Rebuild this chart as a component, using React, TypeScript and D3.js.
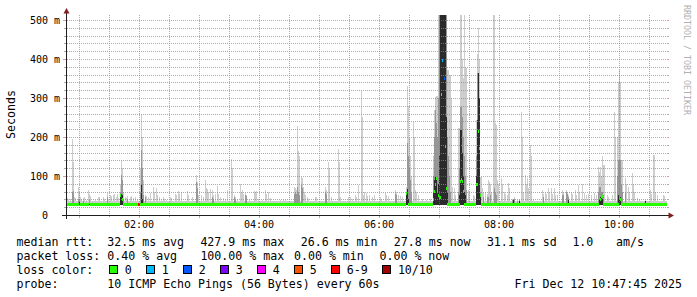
import React from 'react';
import * as d3 from 'd3';

// ---------- data ----------
const START = new Date(2025, 11, 12, 0, 48, 0);
const SAMPLE_COUNT = 600; // one sample per minute
const BASE_MIN_MS = 25.5;
const BASE_MAX_MS = 35;
const BASE_MEDIAN_MS = 27.8;
const Y_MAX_MS = 512.8;

// smoke per sample: [minute, max ping ms, inner band ms, core band ms]
const smoke: number[][] = [
  [0, 43], [1, 40], [3, 42], [5, 195, 60], [6, 137, 62], [7, 45], [8, 43],
  [11, 72, 40], [12, 60, 38, 36], [13, 45], [14, 40], [16, 43, 35], [17, 45], [19, 38],
  [21, 64], [22, 55, 38, 33], [23, 48], [28, 38], [31, 47], [32, 45], [36, 47], [37, 40],
  [40, 56, 45], [41, 42], [43, 51], [44, 48], [46, 50], [47, 55], [49, 46], [50, 53], [51, 44],
  [53, 80, 60, 50], [54, 141, 103, 58], [55, 120, 90, 50], [56, 60, 40], [58, 47], [59, 44],
  [60, 48, 40], [63, 45], [64, 48], [66, 43], [68, 45], [70, 40],
  [73, 120, 60], [74, 259, 167, 80], [75, 200, 120, 40], [76, 90, 50], [78, 51, 45], [79, 48],
  [81, 45], [83, 56], [86, 71], [87, 60], [89, 68], [90, 50], [92, 47], [94, 40], [96, 47], [97, 42],
  [99, 38], [103, 47], [104, 44], [108, 54], [109, 50], [111, 62], [112, 55], [114, 58],
  [120, 62], [121, 50], [125, 45], [129, 103, 85], [130, 85, 70], [131, 50], [134, 51], [136, 45],
  [138, 91], [139, 70], [140, 66], [141, 60], [143, 66], [145, 64, 45], [146, 50, 42], [148, 55],
  [150, 74], [151, 55], [153, 45], [156, 43], [158, 40], [160, 64], [164, 143], [165, 120],
  [167, 50, 45], [168, 45, 38], [170, 42], [173, 79], [174, 60], [175, 64], [176, 55],
  [178, 56, 50], [179, 52, 48], [182, 40], [187, 62], [188, 58], [189, 62], [191, 40], [195, 38],
  [198, 64], [199, 55], [201, 60], [203, 44], [213, 38], [216, 40], [218, 38],
  [227, 71, 55], [228, 70, 60], [229, 65, 55], [230, 228, 71], [231, 165, 60], [232, 150, 50],
  [234, 97, 77], [235, 95, 70], [236, 71], [237, 60], [238, 50], [240, 47], [241, 42],
  [248, 45], [249, 47], [258, 71, 60], [259, 65, 55], [261, 137], [262, 120], [264, 45],
  [271, 168], [272, 137], [273, 45], [281, 45], [283, 47], [285, 42], [288, 50], [289, 46],
  [291, 77], [294, 318], [295, 250], [296, 51], [297, 60],
  [299, 56], [300, 48], [302, 52], [305, 45], [307, 50], [313, 47], [314, 42], [318, 57],
  [319, 52], [321, 48], [328, 64, 55], [329, 58, 50], [331, 50], [333, 48], [335, 45],
  [339, 72, 60, 50], [340, 331, 184, 72], [341, 280, 150, 40], [342, 200, 120], [343, 150, 90],
  [344, 100, 60], [346, 239], [347, 200], [348, 64], [349, 60], [351, 50], [355, 40], [359, 38],
  [363, 40], [366, 150, 100, 60], [367, 269, 200, 90], [368, 303, 269, 97], [369, 305, 235, 95],
  [370, 305, 200, 60], [371, 513, 300, 80], [372, 513, 513, 150], [373, 513, 513, 513],
  [374, 513, 513, 513], [375, 513, 513, 513], [376, 513, 513, 513], [377, 513, 513, 513],
  [378, 513, 513, 513], [379, 513, 513, 250], [380, 372, 200, 60], [381, 372, 150], [382, 359, 100],
  [383, 359, 60], [384, 300], [385, 72], [387, 70], [388, 50], [391, 222, 60], [392, 222, 120, 50],
  [393, 513, 277, 218], [394, 513, 277, 218], [395, 400, 250, 160], [396, 350, 200, 100],
  [397, 513, 150, 60], [398, 376, 100, 50], [399, 376, 64], [401, 64], [402, 55],
  [406, 51], [407, 48], [409, 244, 150, 100], [410, 414, 363, 244], [411, 479, 363, 363],
  [412, 400, 300, 300], [413, 98, 60, 51], [414, 98], [415, 70], [416, 60, 45], [418, 58],
  [420, 55, 45], [421, 90, 45], [422, 85], [423, 80, 50], [424, 60], [426, 513], [427, 513, 70],
  [428, 235, 60], [429, 231, 50], [430, 90], [431, 80], [434, 94], [435, 80], [437, 60], [438, 55],
  [440, 50], [441, 81], [442, 70], [445, 40, 38], [446, 42, 40, 38], [447, 45, 42], [450, 38, 35],
  [452, 40, 38, 36], [454, 265], [455, 200], [456, 60], [458, 103], [459, 80], [460, 94], [461, 70],
  [463, 180], [464, 150], [466, 40], [475, 64], [476, 55, 45], [478, 60], [479, 55], [481, 68],
  [482, 60], [484, 68], [485, 55], [487, 68], [488, 50], [490, 51], [495, 64, 50], [496, 60, 50],
  [499, 64, 60], [500, 60, 55], [501, 50, 45, 38], [504, 60], [505, 55], [508, 64], [509, 50],
  [511, 77], [512, 60], [515, 79], [517, 56], [519, 50], [521, 55], [524, 51], [527, 56], [529, 50],
  [531, 124, 60], [532, 110, 73, 47], [533, 124, 73, 47], [534, 100, 60, 47], [535, 150, 60, 40],
  [536, 128, 50], [537, 128], [540, 51], [541, 45], [545, 51], [547, 265], [548, 200],
  [550, 200, 100], [551, 340, 140, 50], [552, 372, 140, 45], [553, 342, 140, 45], [554, 141, 80],
  [555, 141, 60], [558, 94, 56], [559, 80], [561, 73], [562, 60], [565, 107], [566, 80], [567, 60],
  [570, 43], [572, 40], [578, 38, 36, 35], [583, 64], [584, 55], [586, 154], [587, 154], [588, 60],
  [590, 51], [596, 51], [597, 48],
];

// median per sample that is off the base level: [minute, median ms, lost pings of 10]
const medianPts: number[][] = [
  [12, 36, 0], [22, 32, 0], [53, 50, 0], [54, 57, 0], [55, 40, 0],
  [71, 28, 7], [72, 28, 7],
  [339, 55, 0], [340, 70, 0], [366, 40, 0], [367, 60, 0], [368, 77, 0], [369, 94, 0], [370, 60, 0],
  [371, 50, 0], [372, 45, 0], [373, 45, 0], [374, 308, 0], [375, 396, 1], [376, 428, 3],
  [377, 350, 2], [378, 175, 0], [379, 69, 0],
  [393, 85, 0], [394, 90, 0], [395, 85, 0], [396, 60, 0],
  [409, 77, 0], [410, 77, 0], [411, 214, 0], [412, 171, 0], [413, 51, 0],
  [532, 45, 0], [533, 40, 0], [534, 47, 0], [535, 47, 0], [552, 43, 0], [553, 40, 0],
];

const yTickValues = [0, 100, 200, 300, 400, 500];
const lossLabels = ['0', '1', '2', '3', '4', '5', '6-9', '10/10'];
const lossColors = ['#26ff00', '#00b8ff', '#0059ff', '#7e00ff', '#ff00ff', '#ff5500', '#ff0000', '#a10000'];

const statsRtt = ['median rtt:', '32.5 ms avg', '427.9 ms max', '26.6 ms min', '27.8 ms now', '31.1 ms sd', '1.0', 'am/s'];
const statsLoss = ['packet loss:', '0.40 % avg', '100.00 % max', '0.00 % min', '0.00 % now'];
const probeText = ['probe:', '10 ICMP Echo Pings (56 Bytes) every 60s', 'Fri Dec 12 10:47:45 2025'];

// ---------- layout ----------
const W = 697, H = 297;
const PL = 67, PR = 667, PT = 15, PB = 215;
const MONO = '"DejaVu Sans Mono", monospace';
const rttX = [16.5, 107.3, 200.4, 300.7, 393.8, 486.9, 572.4, 616];
const lossX = [16.5, 107.3, 200.4, 294, 379.5];
const probeX = [16.5, 107.3, 514.5];

function lossColor(lost: number) {
  if (lost <= 5) return lossColors[lost];
  if (lost < 10) return lossColors[6];
  return lossColors[7];
}

export default function App() {
  const end = d3.timeMinute.offset(START, SAMPLE_COUNT);
  const x = d3.scaleTime().domain([START, end]).range([PL, PR]);
  const y = d3.scaleLinear().domain([0, Y_MAX_MS]).range([PB, PT]).clamp(true);

  const samples = d3.range(SAMPLE_COUNT).map((i) => ({
    t: d3.timeMinute.offset(START, i),
    hi: BASE_MAX_MS, mid: 0, dark: 0, med: BASE_MEDIAN_MS, lost: 0,
  }));
  smoke.forEach(([m, hi, mid, dark]) => {
    const s = samples[m];
    s.hi = hi; s.mid = mid || 0; s.dark = dark || 0;
  });
  medianPts.forEach(([m, v, lost]) => { samples[m].med = v; samples[m].lost = lost; });

  const bandRect = (s: any, v: number, fill: string, key: string) => {
    if (!v || v <= BASE_MIN_MS) return null;
    const x0 = x(s.t);
    const x1 = x(d3.timeMinute.offset(s.t, 1));
    const yt = y(v);
    return <rect key={key} x={x0} y={yt} width={x1 - x0} height={y(BASE_MIN_MS) - yt} fill={fill} />;
  };

  const minorY = d3.range(20, 501, 20).filter((v) => v % 100 !== 0);
  const majorY = d3.range(100, 501, 100);
  const minorX = d3.timeMinute.every(30)!.range(START, end).filter((d) => d.getMinutes() !== 0);
  const majorX = d3.timeHour.every(1)!.range(START, end);
  const labelX = d3.timeHour.every(2)!.range(START, end);
  const fmt = d3.timeFormat('%H:%M');
  const GRID = 'rgba(143,143,143,0.75)';
  const MGRID = 'rgba(222,79,79,0.6)';
  const py = (v: number) => Math.round(y(v)) + 0.5;
  const px = (d: Date) => Math.round(x(d)) + 0.5;

  let bx = 109;
  const lossItems = lossLabels.map((lab, i) => {
    const item = { lab, color: lossColors[i], bx };
    bx = bx + 15.7 + lab.length * 7.1 + 14.2;
    return item;
  });

  return (
    <svg width={W} height={H} style={{ position: 'absolute', left: 0, top: 0, background: '#fff' }}
      fontFamily={MONO}>
      <rect x={0} y={0} width={W} height={H} fill="#ffffff" />
      {/* smoke */}
      <g shapeRendering="crispEdges">
        {samples.map((s, i) => bandRect(s, s.hi, '#cdcdcd', 'h' + i))}
        {samples.map((s, i) => bandRect(s, s.mid, '#979797', 'm' + i))}
        {samples.map((s, i) => bandRect(s, s.dark, '#2b2b2b', 'd' + i))}
        {samples.map((s, i) => {
          const x0 = x(s.t);
          const x1 = x(d3.timeMinute.offset(s.t, 1));
          return <rect key={'md' + i} x={x0} y={y(s.med) - 1.5} width={x1 - x0} height={3} fill={lossColor(s.lost)} />;
        })}
      </g>
      {/* grid */}
      <g strokeWidth={1} shapeRendering="crispEdges">
        {minorY.map((v) => (
          <g key={'gy' + v}>
            <line x1={PL} x2={PR} y1={py(v)} y2={py(v)} stroke={GRID} strokeDasharray="1,1" />
            <line x1={PL - 3} x2={PL} y1={py(v)} y2={py(v)} stroke={GRID} />
            <line x1={PR} x2={PR + 2} y1={py(v)} y2={py(v)} stroke={GRID} />
          </g>
        ))}
        {minorX.map((d) => (
          <g key={'gx' + +d}>
            <line x1={px(d)} x2={px(d)} y1={PT} y2={PB} stroke={GRID} strokeDasharray="1,1" />
            <line x1={px(d)} x2={px(d)} y1={PB} y2={PB + 2} stroke={GRID} />
          </g>
        ))}
        {majorY.map((v) => (
          <g key={'my' + v}>
            <line x1={PL} x2={PR} y1={py(v)} y2={py(v)} stroke={MGRID} strokeDasharray="1,1" />
            <line x1={PL - 4} x2={PL} y1={py(v)} y2={py(v)} stroke={MGRID} />
            <line x1={PR} x2={PR + 2} y1={py(v)} y2={py(v)} stroke={MGRID} />
          </g>
        ))}
        {majorX.map((d) => (
          <g key={'mx' + +d}>
            <line x1={px(d)} x2={px(d)} y1={PT} y2={PB} stroke={MGRID} strokeDasharray="1,1" />
            <line x1={px(d)} x2={px(d)} y1={PB} y2={PB + 3} stroke={MGRID} />
          </g>
        ))}
      </g>
      {/* axes */}
      <g shapeRendering="crispEdges">
        <line x1={66.5} x2={66.5} y1={12} y2={219} stroke="#1f1f1f" />
        <line x1={62} x2={669} y1={215.5} y2={215.5} stroke="#1f1f1f" />
      </g>
      <path d="M66.5,8 L63.5,13.5 L69.5,13.5 Z" fill="#801f1f" />
      <path d="M674,215.5 L668.5,212.5 L668.5,218.5 Z" fill="#801f1f" />
      {/* y labels */}
      {yTickValues.map((v) => (
        <text key={'yl' + v} x={v === 0 ? 48 : 60} y={y(v) + 3.6} fontSize={10} textAnchor="end" fill="#000">
          {v === 0 ? '0' : `${v} m`}
        </text>
      ))}
      {labelX.map((d) => (
        <text key={'xl' + +d} x={x(d)} y={227.5} fontSize={10} textAnchor="middle" fill="#000">{fmt(d)}</text>
      ))}
      <text transform="translate(15,114.5) rotate(-90)" fontSize={11.6} textAnchor="middle" fill="#000">Seconds</text>
      <text transform="translate(684,5) rotate(90)" fontSize={8.3} fill="#b0b0b0">RRDTOOL / TOBI OETIKER</text>
      {/* legend */}
      <g fontSize={11.6} fill="#000">
        {statsRtt.map((t, i) => <text key={'r' + i} x={rttX[i]} y={245.5} xmlSpace="preserve">{t}</text>)}
        {statsLoss.map((t, i) => <text key={'l' + i} x={lossX[i]} y={259.5} xmlSpace="preserve">{t}</text>)}
        <text x={16.5} y={273.5}>loss color:</text>
        {lossItems.map((it) => (
          <g key={'lc' + it.lab}>
            <rect x={it.bx + 0.5} y={265.5} width={8} height={8} fill={it.color} stroke="#000" strokeWidth={1} shapeRendering="crispEdges" />
            <text x={it.bx + 15.7} y={273.5}>{it.lab}</text>
          </g>
        ))}
        {probeText.map((t, i) => <text key={'p' + i} x={probeX[i]} y={287.5}>{t}</text>)}
      </g>
    </svg>
  );
}
